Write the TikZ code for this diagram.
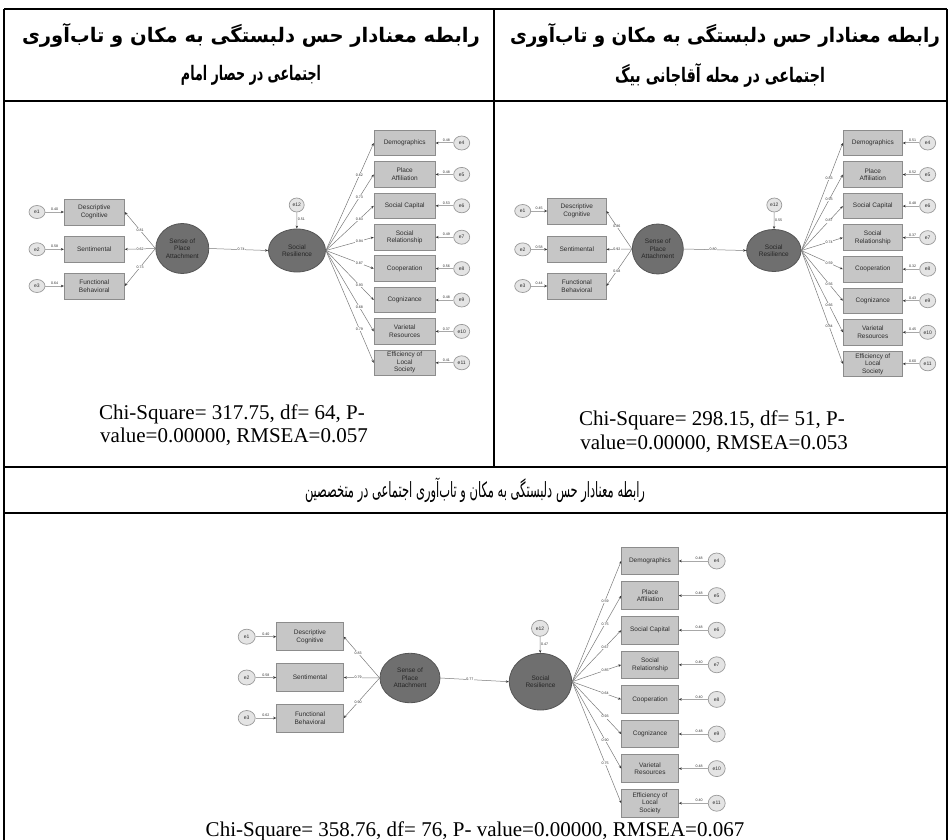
\documentclass[tikz,border=0pt]{standalone}
\usepackage{fontspec}
\usepackage{graphicx}
\setmainfont{Liberation Serif}
\newfontfamily\arabicfont[Script=Arabic]{DejaVu Sans}
\newfontfamily\diagfont{Liberation Sans}
\TeXXeTstate=1
\usetikzlibrary{shapes.geometric,arrows.meta}
\definecolor{boxfill}{HTML}{C6C6C6}
\definecolor{boxline}{HTML}{8C8C8C}
\definecolor{latfill}{HTML}{6F6F6F}
\definecolor{latline}{HTML}{555555}
\definecolor{errfill}{HTML}{E4E4E4}
\definecolor{errline}{HTML}{9A9A9A}
\definecolor{pathcol}{HTML}{7A7A7A}
\definecolor{errpath}{HTML}{A8A8A8}
\definecolor{txtdark}{HTML}{2E2E2E}
\tikzset{
  tab/.style={line width=1.6pt, black},
  obs/.style={rectangle, draw=boxline, fill=boxfill, line width=0.9pt, inner sep=0pt, align=center, text=txtdark, font=\diagfont\fontsize{6.5}{7.5}\selectfont},
  lat/.style={ellipse, draw=latline, fill=latfill, line width=0.8pt, inner sep=0pt, align=center, text=black!85, font=\diagfont\fontsize{6.5}{7.5}\selectfont},
  err/.style={ellipse, draw=errline, fill=errfill, line width=0.7pt, inner sep=0pt, text=txtdark, font=\diagfont\fontsize{5}{6}\selectfont},
  lbl/.style={fill=white, inner sep=0.6pt, text=txtdark, font=\diagfont\fontsize{3.6}{4}\selectfont},
  elbl/.style={inner sep=0.8pt, text=txtdark, font=\diagfont\fontsize{3.6}{4}\selectfont},
  pth/.style={draw=pathcol, line width=0.5pt, -{Stealth[length=3pt,width=2.4pt,color=black!80]}},
  epth/.style={draw=errpath, line width=1pt, -{Stealth[length=3pt,width=2.6pt,color=black!80]}},
  hdr/.style={inner sep=0pt, font=\arabicfont\bfseries\fontsize{20}{24}\selectfont},
  hdrn/.style={inner sep=0pt, font=\arabicfont\fontsize{21}{25}\selectfont},
  chi/.style={inner sep=0pt, font=\fontsize{21}{24}\selectfont},
}
\begin{document}
\begin{tikzpicture}[x=1pt,y=-1pt]
\useasboundingbox (0,0) rectangle (950,840);
% table
\draw[tab] (4,9) -- (947,9);
\draw[tab] (4,101) -- (947,101);
\draw[tab] (4,467) -- (947,467);
\draw[tab] (4,513) -- (947,513);
\draw[tab] (4,9) -- (4,840);
\draw[tab] (947,9) -- (947,840);
\draw[tab] (494,9) -- (494,467);
% headers
\node[hdr] (h1a) at (251,35) {\resizebox{458pt}{\height}{\beginR رابطه معنادار حس دلبستگی به مکان و تاب^^^^200cآوری\endR}};
\node[hdr] (h1b) at (251,75) {\resizebox{140pt}{\height}{\beginR اجتماعی در حصار امام\endR}};
\node[hdr] (h2a) at (725,35) {\resizebox{430pt}{\height}{\beginR رابطه معنادار حس دلبستگی به مکان و تاب^^^^200cآوری\endR}};
\node[hdr] (h2b) at (720,75) {\resizebox{210pt}{\height}{\beginR اجتماعی در محله آقاجانی بیگ\endR}};
\node[hdrn] (h3) at (475,490) {\resizebox{340pt}{\height}{\beginR رابطه معنادار حس دلبستگی به مکان و تاب^^^^200cآوری اجتماعی در متخصصین\endR}};
% chi-square texts
\node[chi] (c1a) at (232,414) {Chi-Square= 317.75, df= 64, P-};
\node[chi] (c1b) at (234,437) {value=0.00000, RMSEA=0.057};
\node[chi] (c2a) at (712,420) {Chi-Square= 298.15, df= 51, P-};
\node[chi] (c2b) at (714,444) {value=0.00000, RMSEA=0.053};
\node[chi, anchor=base] (c3) at (475,836) {Chi-Square= 358.76, df= 76, P- value=0.00000, RMSEA=0.067};

% ---------------- Diagram A (top left)
\foreach \n/\y/\t/\er in {1/212/{Descriptive\\Cognitive}/0.40, 2/249.3/Sentimental/0.58, 3/286/{Functional\\Behavioral}/0.64}{
  \node[err, minimum width=16, minimum height=13] (Ae\n) at (37,\y) {e\n};
  \node[obs, minimum width=60, minimum height=26] (Ab\n) at (94.3,\y) {\t};
  \draw[epth] (Ae\n) -- node[elbl, above]{\er} (Ab\n);
}
\node[lat, minimum width=53, minimum height=50] (Aspa) at (182.3,248.5) {Sense of\\Place\\Attachment};
\node[lat, minimum width=57, minimum height=43] (Asr) at (297,250.5) {Social\\Resilience};
\node[err, minimum width=15, minimum height=14] (Ae12) at (296.7,205) {e12};
\foreach \n/\l in {1/0.81, 2/0.62, 3/0.73}{
  \draw[pth] (Aspa.west) -- node[lbl, pos=0.5]{\l} (Ab\n.east);
}
\draw[pth] (Aspa.east) -- node[lbl, pos=0.54]{0.74} (Asr.west);
\draw[pth] (Ae12) -- node[elbl, right, pos=0.45]{0.51} (Asr);
\foreach \n/\t/\ld/\er [count=\k from 0] in {4/Demographics/0.62/0.48, 5/{Place\\Affiliation}/0.73/0.48, 6/Social Capital/0.83/0.53, 7/{Social\\Relationship}/0.94/0.49, 8/Cooperation/0.87/0.56, 9/Cognizance/0.93/0.48, 10/{Varietal\\Resources}/0.68/0.37, 11/{Efficiency of\\Local\\Society}/0.79/0.41}{
  \node[obs, minimum width=61, minimum height=25.5] (Ab\n) at (404.7,{143+31.4*\k}) {\t};
  \node[err, minimum width=16, minimum height=14] (Ae\n) at (461.7,{143+31.4*\k}) {e\n};
  \draw[epth] (Ae\n) -- node[elbl, above, pos=0.4]{\er} (Ab\n);
  \draw[pth] (Asr.east) -- node[lbl, pos=0.7]{\ld} (Ab\n.west);
}

% ---------------- Diagram B (top right)
\foreach \n/\y/\t/\er in {1/211/{Descriptive\\Cognitive}/0.45, 2/249.4/Sentimental/0.58, 3/286/{Functional\\Behavioral}/0.44}{
  \node[err, minimum width=16, minimum height=13] (Be\n) at (522.7,\y) {e\n};
  \node[obs, minimum width=58.3, minimum height=26] (Bb\n) at (576.8,\y) {\t};
  \draw[epth] (Be\n) -- node[elbl, above]{\er} (Bb\n);
}
\node[lat, minimum width=51, minimum height=50] (Bspa) at (657.8,249) {Sense of\\Place\\Attachment};
\node[lat, minimum width=54.4, minimum height=42] (Bsr) at (773.8,250.5) {Social\\Resilience};
\node[err, minimum width=15, minimum height=14] (Be12) at (774.3,205) {e12};
\foreach \n/\l in {1/0.86, 2/0.92, 3/0.68}{
  \draw[pth] (Bspa.west) -- node[lbl, pos=0.59]{\l} (Bb\n.east);
}
\draw[pth] (Bspa.east) -- node[lbl, pos=0.47]{0.80} (Bsr.west);
\draw[pth] (Be12) -- node[elbl, right, pos=0.45]{0.55} (Bsr);
\foreach \n/\t/\ld/\er [count=\k from 0] in {4/Demographics/0.83/0.51, 5/{Place\\Affiliation}/0.93/0.52, 6/Social Capital/0.87/0.48, 7/{Social\\Relationship}/0.74/0.37, 8/Cooperation/0.59/0.32, 9/Cognizance/0.56/0.43, 10/{Varietal\\Resources}/0.66/0.45, 11/{Efficiency of\\Local\\Society}/0.84/0.60}{
  \node[obs, minimum width=59, minimum height=25.5] (Bb\n) at (872.8,{143+31.55*\k}) {\t};
  \node[err, minimum width=16, minimum height=14] (Be\n) at (927.7,{143+31.55*\k}) {e\n};
  \draw[epth] (Be\n) -- node[elbl, above, pos=0.4]{\er} (Bb\n);
  \draw[pth] (Bsr.east) -- node[lbl, pos=0.67]{\ld} (Bb\n.west);
}

% ---------------- Diagram C (bottom)
\foreach \n/\y/\t/\er in {1/636.7/{Descriptive\\Cognitive}/0.40, 2/677.5/Sentimental/0.58, 3/718/{Functional\\Behavioral}/0.62}{
  \node[err, minimum width=17, minimum height=15] (Ce\n) at (246.7,\y) {e\n};
  \node[obs, minimum width=66.7, minimum height=28] (Cb\n) at (310,\y) {\t};
  \draw[epth] (Ce\n) -- node[elbl, above]{\er} (Cb\n);
}
\node[lat, minimum width=60, minimum height=49.4] (Cspa) at (410,678) {Sense of\\Place\\Attachment};
\node[lat, minimum width=62.4, minimum height=56.6] (Csr) at (540.5,681.7) {Social\\Resilience};
\node[err, minimum width=17, minimum height=16] (Ce12) at (540,628.3) {e12};
\foreach \n/\l in {1/0.83, 2/0.79, 3/0.90}{
  \draw[pth] (Cspa.west) -- node[lbl, pos=0.6]{\l} (Cb\n.east);
}
\draw[pth] (Cspa.east) -- node[lbl, pos=0.43]{0.77} (Csr.west);
\draw[pth] (Ce12) -- node[elbl, right, pos=0.45]{0.47} (Csr);
\foreach \n/\t/\ld/\er [count=\k from 0] in {4/Demographics/0.59/0.48, 5/{Place\\Affiliation}/0.75/0.48, 6/Social Capital/0.67/0.48, 7/{Social\\Relationship}/0.85/0.40, 8/Cooperation/0.64/0.40, 9/Cognizance/0.93/0.48, 10/{Varietal\\Resources}/0.90/0.48, 11/{Efficiency of\\Local\\Society}/0.75/0.40}{
  \node[obs, minimum width=56.7, minimum height=27.7] (Cb\n) at (650,{561+34.6*\k}) {\t};
  \node[err, minimum width=17, minimum height=16] (Ce\n) at (716.7,{561+34.6*\k}) {e\n};
  \draw[epth] (Ce\n) -- node[elbl, above, pos=0.3]{\er} (Cb\n);
  \draw[pth] (Csr.east) -- node[lbl, pos=0.67]{\ld} (Cb\n.west);
}
\end{tikzpicture}
\end{document}
